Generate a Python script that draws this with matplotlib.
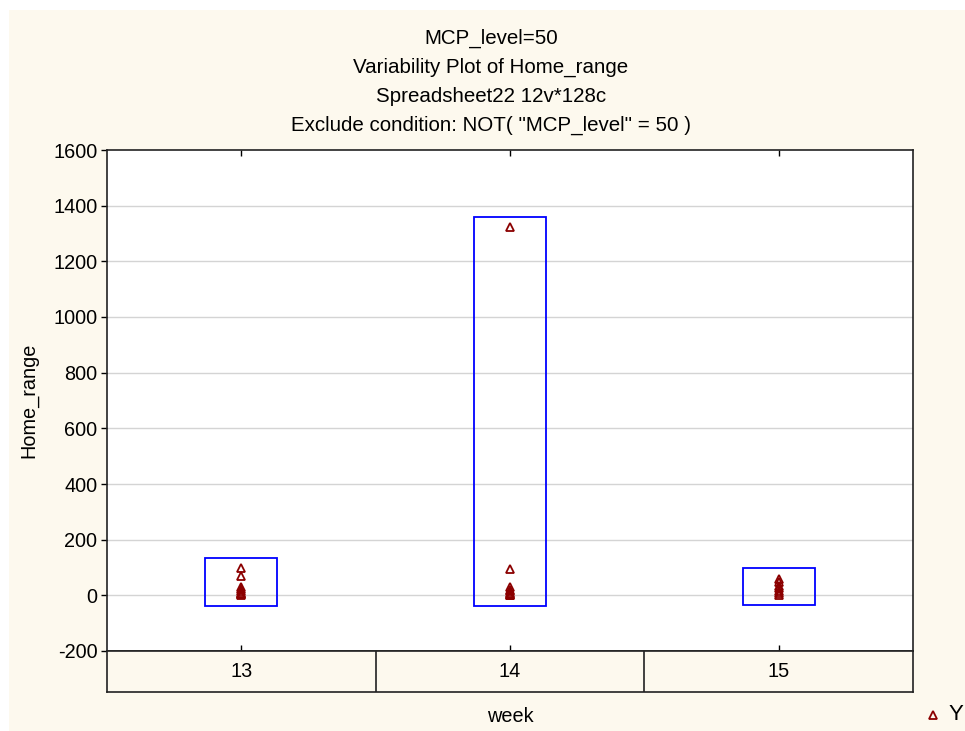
import numpy as np
import matplotlib
matplotlib.use("Agg")
import matplotlib.pyplot as plt
from matplotlib.patches import Rectangle

plt.rcParams['font.family'] = ['Liberation Sans', 'DejaVu Sans']

weeks = ["13", "14", "15"]
home_range = {
    "13": [98, 70, 30, 22, 15, 10, 5, 3, 0],
    "14": [1322, 95, 30, 20, 15, 10, 5, 2, 0],
    "15": [60, 48, 35, 25, 15, 8, 2],
}
box_pad = 37
yticks = [-200, 0, 200, 400, 600, 800, 1000, 1200, 1400, 1600]
titles = ["MCP_level=50", "Variability Plot of Home_range",
          "Spreadsheet22 12v*128c", 'Exclude condition: NOT( "MCP_level" = 50 )']

W, H = 965, 731
cream = "#fdf9ee"
FS = 14.3
fig = plt.figure(figsize=(W / 100, H / 100), dpi=100, facecolor="white")
fig.patches.append(Rectangle((9 / W, 0), 1, 1 - 10 / H, transform=fig.transFigure,
                             facecolor=cream, edgecolor="none", zorder=-1))

def fx(px): return px / W
def fy(py): return 1 - py / H

L, R, T, B, TB = 107, 913, 150, 651, 692
ax = fig.add_axes([fx(L), fy(B), fx(R) - fx(L), fy(T) - fy(B)])
ax.set_facecolor("white")
ax.set_xlim(0.5, 3.5)
ax.set_ylim(-200, 1600)
ax.set_yticks(yticks)
ax.set_yticklabels([str(t) for t in yticks], fontsize=FS)
for t in yticks[1:-1]:
    ax.axhline(t, color="#d4d4d4", lw=1, zorder=0)
ax.set_xticks([1, 2, 3])
ax.set_xticklabels([])
ax.tick_params(axis="x", direction="in", length=4, top=True, bottom=True, width=1)
ax.tick_params(axis="y", direction="out", length=4, width=1, pad=3)
for s in ax.spines.values():
    s.set_linewidth(1.2)
    s.set_color("#222222")

for i, w in enumerate(weeks):
    xc = i + 1
    vals = np.array(home_range[w])
    lo, hi = vals.min() - box_pad, vals.max() + box_pad
    ax.add_patch(Rectangle((xc - 0.134, lo), 0.268, hi - lo, fill=False,
                           edgecolor="#0000ff", lw=1.3, zorder=2))
    ax.plot(np.full(len(vals), xc), vals, ls="none", marker="^", ms=5.5,
            mfc="none", mec="#8b0000", mew=1.3, zorder=3)

ax.set_ylabel("Home_range", fontsize=FS)
ax.yaxis.set_label_coords(-0.085, 0.5)

# category table below plot
axt = fig.add_axes([fx(L), fy(TB), fx(R) - fx(L), fy(B) - fy(TB)])
axt.set_facecolor(cream)
axt.set_xlim(0.5, 3.5)
axt.set_ylim(0, 1)
axt.set_xticks([])
axt.set_yticks([])
for s in axt.spines.values():
    s.set_linewidth(1.2)
    s.set_color("#222222")
for xb in [1.5, 2.5]:
    axt.axvline(xb, color="#222222", lw=1.2)
for i, w in enumerate(weeks):
    axt.text(i + 1, 0.5, w, ha="center", va="center", fontsize=FS)

for k, t in enumerate(titles):
    fig.text(fx(491), fy(38 + k * 29), t, ha="center", va="center", fontsize=14.8)

fig.text(fx(510), fy(717), "week", ha="center", va="center", fontsize=FS)
fig.lines.append(plt.Line2D([fx(933)], [fy(715)], transform=fig.transFigure,
                            ls="none", marker="^", ms=5.5, mfc="none", mec="#8b0000", mew=1.3))
fig.text(fx(949), fy(715), "Y", ha="left", va="center", fontsize=16)

fig.savefig("out.png", dpi=100, facecolor=fig.get_facecolor())
